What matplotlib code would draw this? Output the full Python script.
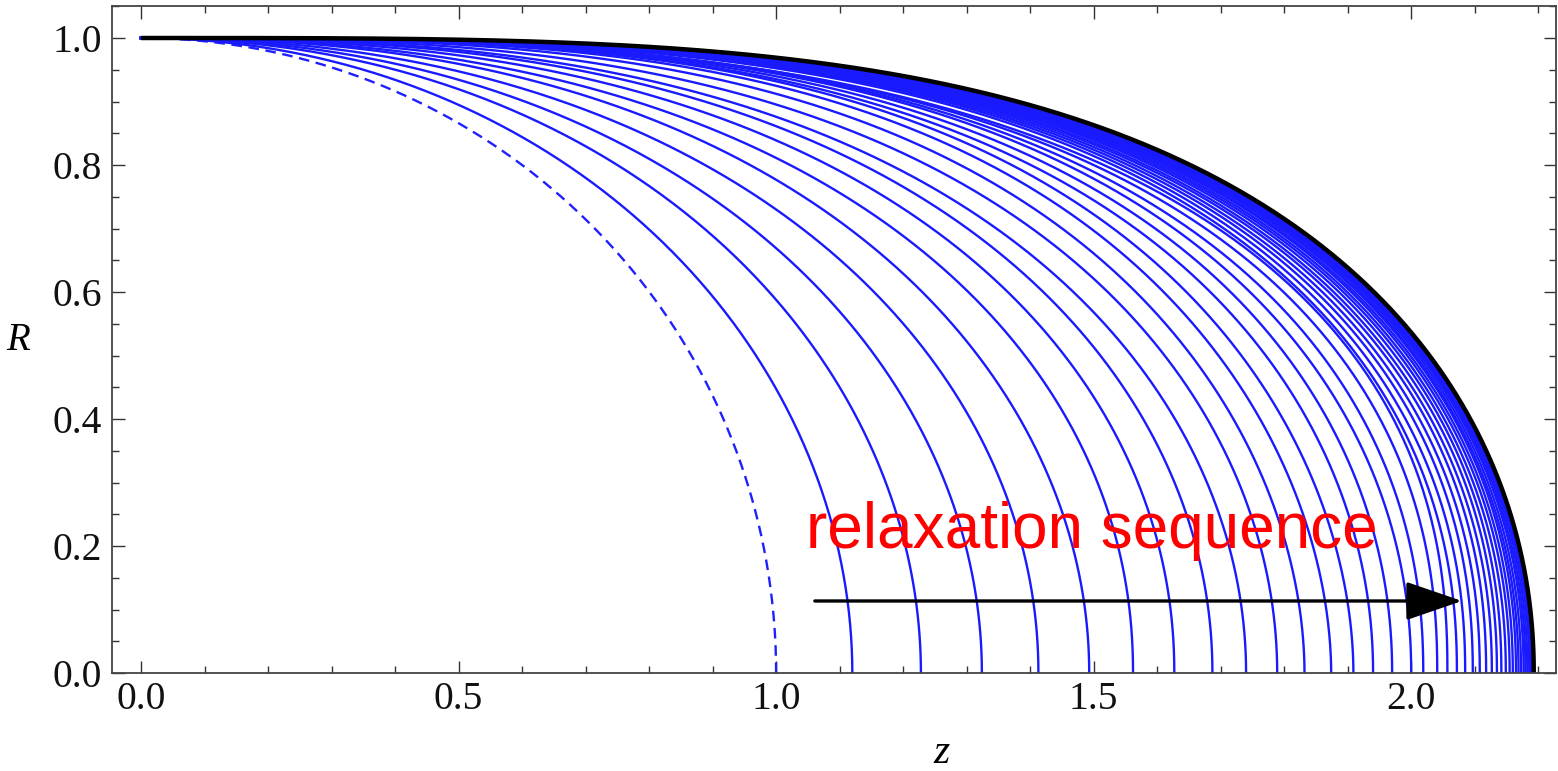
import numpy as np
import matplotlib
matplotlib.use("Agg")
import matplotlib.pyplot as plt
from matplotlib.ticker import MultipleLocator

# ---- data ----
# dashed initial profile (quarter circle) : end point and crossings at R=0.8, R=0.4
dashed_end = 1.000
dashed_z08 = 0.600
dashed_z04 = 0.917

# relaxation sequence (blue): z where each profile reaches R=0, and where it crosses R=0.8 and R=0.4
blue_end = [1.120, 1.228, 1.324, 1.413, 1.493, 1.562, 1.627, 1.687, 1.740, 1.789,
            1.832, 1.874, 1.909, 1.940, 1.970, 2.000, 2.019, 2.041, 2.057,
            2.072, 2.085, 2.097, 2.108, 2.118, 2.127, 2.135, 2.142, 2.149, 2.155,
            2.160, 2.165, 2.169, 2.173, 2.177, 2.180, 2.183, 2.186, 2.188, 2.190]
blue_z08 = [0.671, 0.750, 0.817, 0.888, 0.959, 1.022, 1.082, 1.137, 1.180, 1.238,
            1.290, 1.337, 1.371, 1.401, 1.430, 1.458, 1.478, 1.500, 1.516,
            1.531, 1.543, 1.554, 1.564, 1.574, 1.582, 1.591, 1.598, 1.605, 1.612,
            1.616, 1.622, 1.625, 1.630, 1.633, 1.637, 1.639, 1.644, 1.645, 1.647]
blue_z04 = [1.025, 1.128, 1.219, 1.306, 1.384, 1.458, 1.521, 1.578, 1.628, 1.679,
            1.720, 1.762, 1.798, 1.836, 1.868, 1.899, 1.924, 1.951, 1.972,
            1.979, 1.991, 2.003, 2.013, 2.023, 2.031, 2.039, 2.046, 2.052, 2.058,
            2.063, 2.068, 2.071, 2.075, 2.079, 2.082, 2.085, 2.088, 2.090, 2.091]

# final (equilibrium) profile, black
final_end = 2.193
final_z08 = 1.652
final_z04 = 2.093

x_ticks = [0.0, 0.5, 1.0, 1.5, 2.0]
y_ticks = [0.0, 0.2, 0.4, 0.6, 0.8, 1.0]
label_text = "relaxation sequence"
arrow_start = (1.061, 0.1134)
arrow_end = (2.080, 0.1134)


def profile(L, z08, z04, n=400):
    """Smooth curve from (0,1) to (L,0) passing through the read crossings
    (z08, 0.8) and (z04, 0.4): superellipse (z/L)^a + R^b = 1 fitted to them."""
    u8, u4 = z08 / L, z04 / L
    bs = np.linspace(0.8, 3.5, 2701)
    a_s = np.log(1 - 0.8 ** bs) / np.log(u8)
    err = np.abs(u4 ** a_s + 0.4 ** bs - 1)
    k = np.argmin(err)
    a, b = a_s[k], bs[k]
    t = np.linspace(0, np.pi / 2, n)
    z = L * np.cos(t) ** (2 / a)
    R = np.sin(t) ** (2 / b)
    return z, R


fig = plt.figure(figsize=(15.58, 7.71), dpi=100)
ax = fig.add_axes([112 / 1558, 1 - 673 / 771, (1556 - 112) / 1558, (673 - 6) / 771])

z, R = profile(dashed_end, dashed_z08, dashed_z04)
ax.plot(z, R, color="#2020ff", lw=1.7, dashes=(4.5, 2.8))

for L, a8, a4 in zip(blue_end, blue_z08, blue_z04):
    z, R = profile(L, a8, a4)
    ax.plot(z, R, color="#1a1aff", lw=1.7)

z, R = profile(final_end, final_z08, final_z04)
ax.plot(z, R, color="black", lw=3.2, solid_capstyle="butt")

ax.set_xlim(-0.0457, 2.228)
ax.set_ylim(0.0, 1.0504)

ax.xaxis.set_major_locator(MultipleLocator(0.5))
ax.xaxis.set_minor_locator(MultipleLocator(0.1))
ax.yaxis.set_major_locator(MultipleLocator(0.2))
ax.yaxis.set_minor_locator(MultipleLocator(0.05))
ax.set_xticks(x_ticks)
ax.set_yticks(y_ticks)
ax.set_xticklabels([f"{v:.1f}" for v in x_ticks])
ax.set_yticklabels([f"{v:.1f}" for v in y_ticks])

ax.tick_params(which="both", direction="in", top=True, right=True,
               color="#333333", width=1.0)
ax.tick_params(which="major", length=9)
ax.tick_params(which="minor", length=5)
ax.tick_params(axis="y", which="major", pad=7)
ax.tick_params(axis="x", which="major", pad=6)
for lab in ax.get_xticklabels() + ax.get_yticklabels():
    lab.set_fontfamily("Liberation Serif")
    lab.set_fontsize(28.5)
    lab.set_color("#111111")

for s in ax.spines.values():
    s.set_color("#444444")
    s.set_linewidth(1.3)

ax.text(-0.194, 0.524, "R", transform=ax.transData, fontsize=28,
        family="Liberation Serif", style="italic", ha="center", va="center")
ax.text(1.261, -0.142, "z", transform=ax.transData, fontsize=30,
        family="Liberation Serif", style="italic", ha="center", va="baseline",
        clip_on=False)

ax.text(1.047, 0.197, label_text, color="red", fontsize=46,
        family="Liberation Sans", ha="left", va="baseline")

ax.annotate("", xy=arrow_end, xytext=arrow_start,
            arrowprops=dict(arrowstyle="-|>,head_length=1.6,head_width=0.55",
                            mutation_scale=22, lw=2.4, color="black",
                            shrinkA=0, shrinkB=0))

fig.savefig("out.png", dpi=100)
